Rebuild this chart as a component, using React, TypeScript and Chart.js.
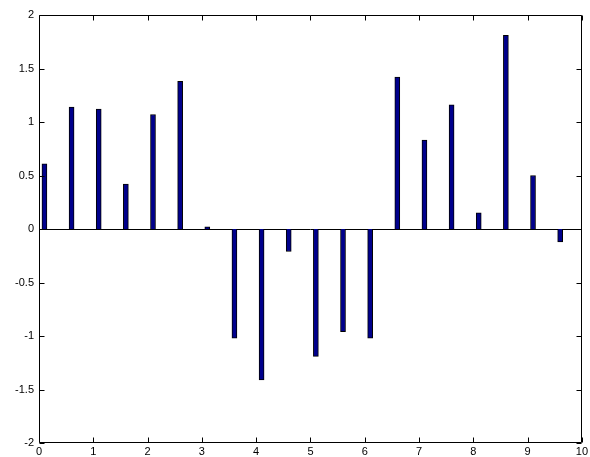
import React, { useEffect, useRef } from "react";
import { Chart, registerables } from "chart.js";

Chart.register(...registerables);

const positions = [0.1, 0.6, 1.1, 1.6, 2.1, 2.6, 3.1, 3.6, 4.1, 4.6, 5.1, 5.6, 6.1, 6.6, 7.1, 7.6, 8.1, 8.6, 9.1, 9.6];
const values = [0.61, 1.14, 1.12, 0.42, 1.07, 1.38, 0.02, -1.02, -1.41, -0.21, -1.19, -0.96, -1.02, 1.42, 0.83, 1.16, 0.15, 1.81, 0.5, -0.12];
const xTicks = [0, 1, 2, 3, 4, 5, 6, 7, 8, 9, 10];
const yTicks = [-2, -1.5, -1, -0.5, 0, 0.5, 1, 1.5, 2];

const FONT = { family: "'Liberation Sans', Arial, Helvetica, sans-serif", size: 11 };

const boxPlugin = {
  id: "matlabBox",
  beforeDatasetsDraw(chart: any) {
    const { ctx, chartArea } = chart;
    const y0 = chart.scales.y.getPixelForValue(0);
    ctx.save();
    ctx.strokeStyle = "#000";
    ctx.lineWidth = 1;
    ctx.beginPath();
    ctx.moveTo(chartArea.left, Math.round(y0) + 0.5);
    ctx.lineTo(chartArea.right, Math.round(y0) + 0.5);
    ctx.stroke();
    ctx.restore();
  },
  afterDraw(chart: any) {
    const { ctx, chartArea } = chart;
    const { left, right, top, bottom } = chartArea;
    const xs = chart.scales.x;
    const ys = chart.scales.y;
    const L = 5;
    ctx.save();
    ctx.strokeStyle = "#000";
    ctx.lineWidth = 1;
    ctx.beginPath();
    const l = Math.round(left) + 0.5, r = Math.round(right) - 0.5, t = Math.round(top) + 0.5, b = Math.round(bottom) - 0.5;
    ctx.moveTo(l, t); ctx.lineTo(r, t); ctx.lineTo(r, b); ctx.lineTo(l, b); ctx.closePath();
    xTicks.forEach((v) => {
      const px = Math.round(xs.getPixelForValue(v)) + 0.5;
      ctx.moveTo(px, b); ctx.lineTo(px, b - L);
      ctx.moveTo(px, t); ctx.lineTo(px, t + L);
    });
    yTicks.forEach((v) => {
      const py = Math.round(ys.getPixelForValue(v)) + 0.5;
      ctx.moveTo(l, py); ctx.lineTo(l + L, py);
      ctx.moveTo(r, py); ctx.lineTo(r - L, py);
    });
    ctx.stroke();
    ctx.restore();
  },
};

export default function App() {
  const ref = useRef<HTMLCanvasElement | null>(null);
  useEffect(() => {
    if (!ref.current) return;
    const chart = new Chart(ref.current, {
      type: "bar",
      data: {
        datasets: [
          {
            data: positions.map((x, i) => ({ x, y: values[i] })),
            backgroundColor: "#00008C",
            borderColor: "#000000",
            borderWidth: 1,
            barThickness: 5,
          },
        ],
      },
      options: {
        animation: false,
        responsive: false,
        events: [],
        layout: { padding: { top: 15, right: 7, left: 0, bottom: 0 } },
        plugins: { legend: { display: false }, tooltip: { enabled: false } },
        scales: {
          x: {
            type: "linear",
            offset: false,
            min: 0,
            max: 10,
            afterBuildTicks: (s: any) => { s.ticks = xTicks.map((v) => ({ value: v })); },
            afterFit: (s: any) => { s.height = 14; },
            grid: { display: false, drawTicks: false, offset: false },
            border: { display: false },
            ticks: { font: FONT, color: "#000", padding: 2, maxRotation: 0, autoSkip: false, callback: (v: any) => String(v) },
          },
          y: {
            min: -2,
            max: 2,
            afterBuildTicks: (s: any) => { s.ticks = yTicks.map((v) => ({ value: v })); },
            afterFit: (s: any) => { s.width = 39; },
            grid: { display: false, drawTicks: false },
            border: { display: false },
            ticks: { font: FONT, color: "#000", padding: 5, autoSkip: false, callback: (v: any) => String(v) },
          },
        },
      },
      plugins: [boxPlugin],
    });
    return () => chart.destroy();
  }, []);
  return (
    <div style={{ position: "absolute", left: 0, top: 0, width: 590, height: 457, background: "#fff" }}>
      <canvas ref={ref} width={590} height={457} style={{ width: 590, height: 457 }} />
    </div>
  );
}
